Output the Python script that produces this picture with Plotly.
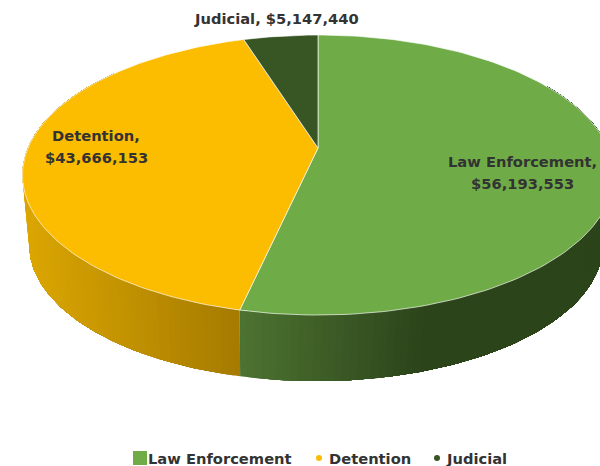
import numpy as np
import plotly.graph_objects as go

categories = ["Law Enforcement", "Detention", "Judicial"]
values = [56193553, 43666153, 5147440]
top_colors = ["#6FAC47", "#FCBC00", "#375623"]
side_start = ["#4C7231", "#DBA602", "#375623"]
side_end = ["#2C441A", "#A67B00", "#375623"]
label_lines = [["Law Enforcement,", "$56,193,553"], ["Detention,", "$43,666,153"], ["Judicial, $5,147,440"]]
label_pos = [(522, 161), (96, 135), (276, 18)]
LINE_GAP = 22
legend_keys = [(133, 147, 7), (316, 322, 3), (434, 440, 3)]
legend_kinds = ["rect", "circle", "circle"]
legend_text_x = [148, 329, 446]

W, H = 600, 466
P = 0.193
FONT = dict(family="DejaVu Sans", size=14.7, color="#333333")


def project(theta, x0, y0, a, b):
    sx, cy = np.sin(theta), np.cos(theta)
    k = 1 / (1 + P * cy)
    return x0 + b * sx * k, y0 - a * cy * k


def top(theta):
    return project(theta, 318, 148, 134.8, 290)


def bottom(theta):
    return project(theta, 316, 219, 130.8, 281.3)


def mix(c1, c2, t):
    a = [int(c1[i:i + 2], 16) for i in (1, 3, 5)]
    b = [int(c2[i:i + 2], 16) for i in (1, 3, 5)]
    return "rgb(%d,%d,%d)" % tuple(round(u + (v - u) * t) for u, v in zip(a, b))


fractions = np.array(values) / sum(values)
edges = np.concatenate([[0], np.cumsum(fractions)]) * 2 * np.pi

fig = go.Figure()

# extruded rim: only the front-facing part is ever visible
ranges = [(np.pi / 3, edges[1]), (edges[1], edges[2] - 0.6)]
x_span = [(top(edges[1])[0], 420), (25, top(edges[1])[0])]
for i in range(2):
    a0, a1 = ranges[i]
    n = 110
    grid = np.linspace(a0, a1, n + 1)
    lo, hi = x_span[i]
    if i == 0:
        grid = grid[::-1]  # paint from the slice boundary outward
    for j in range(n):
        t0 = grid[j]
        # each band runs on to the end of the slice so neighbours overlap with no seam
        band = np.linspace(t0, grid[-1], max(2, n - j + 1))
        xt, yt = top(band)
        xb, yb = bottom(band)
        f = np.clip((top(t0)[0] - lo) / (hi - lo), 0, 1)
        col = mix(side_start[i], side_end[i], f)
        fig.add_trace(go.Scatter(
            x=np.concatenate([xt, xb[::-1], xt[:1]]),
            y=np.concatenate([yt, yb[::-1], yt[:1]]),
            mode="lines", fill="toself", fillcolor=col,
            line=dict(width=0), hoverinfo="skip", showlegend=False))

# top face
for i, name in enumerate(categories):
    grid = np.linspace(edges[i], edges[i + 1], 160)
    ex, ey = top(grid)
    cx, cy = 318, 148
    fig.add_trace(go.Scatter(
        x=np.concatenate([[cx], ex, [cx]]), y=np.concatenate([[cy], ey, [cy]]),
        mode="lines", fill="toself", fillcolor=top_colors[i],
        line=dict(color="rgba(255,255,255,0.65)", width=1),
        name=name, hoverinfo="name", showlegend=False))

annotations = []
for lines, (lx, ly) in zip(label_lines, label_pos):
    for k, s in enumerate(lines):
        annotations.append(dict(
            x=lx, y=ly + k * LINE_GAP, xref="x", yref="y", text=f"<b>{s}</b>",
            showarrow=False, align="center", xanchor="center", yanchor="middle", font=FONT))

shapes = []
for i, name in enumerate(categories):
    annotations.append(dict(
        x=legend_text_x[i], y=458, xref="x", yref="y", text=f"<b>{name}</b>",
        showarrow=False, xanchor="left", yanchor="middle", xshift=-2, font=FONT))
    x0, x1, half = legend_keys[i]
    shapes.append(dict(type=legend_kinds[i], xref="x", yref="y", x0=x0, x1=x1,
                       y0=458 - half, y1=458 + half, fillcolor=top_colors[i],
                       line=dict(width=0)))

fig.update_layout(
    width=W, height=H, margin=dict(l=0, r=0, t=0, b=0),
    paper_bgcolor="white", plot_bgcolor="white", showlegend=False,
    xaxis=dict(range=[0, W], visible=False, fixedrange=True),
    yaxis=dict(range=[H, 0], visible=False, fixedrange=True),
    annotations=annotations, shapes=shapes)

fig.write_html("out.html", post_script="document.body.style.margin='0';document.body.style.overflow='hidden';",
               config={"displayModeBar": False})
